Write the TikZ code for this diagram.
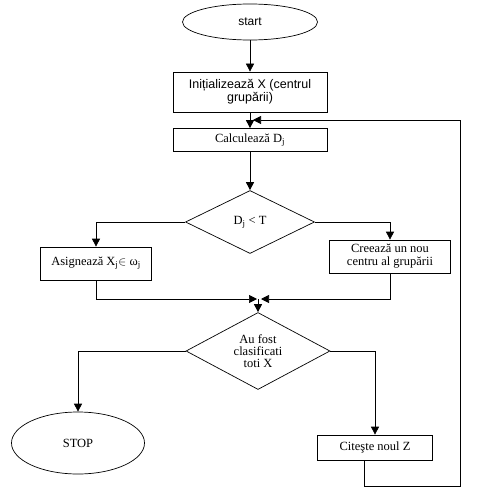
\documentclass[tikz,border=0pt]{standalone}
\usepackage{fontspec}
\setmainfont{Liberation Serif}
\newfontfamily\arialfont{Liberation Sans}
\usetikzlibrary{arrows.meta,positioning,shapes.geometric,calc}

\begin{document}
\begin{tikzpicture}[
    x=1pt, y=-1pt,
    line width=0.7pt,
    box/.style={rectangle, draw, inner sep=1pt, align=center,
                font=\fontsize{12.5}{13}\selectfont},
    sansbox/.style={box, font=\arialfont\fontsize{12.5}{13}\selectfont},
    oval/.style={ellipse, draw, inner sep=0pt, font=\fontsize{12.5}{13}\selectfont},
    decision/.style={diamond, draw, inner sep=0pt, aspect=2, align=center,
                font=\fontsize{12.5}{12}\selectfont},
    arrow/.style={-{Triangle[length=8pt,width=8pt]}}
]
\useasboundingbox (0,0) rectangle (483,495);

\node[oval, minimum width=135pt, minimum height=36pt,
      font=\arialfont\fontsize{12}{13}\selectfont] (start)  at (250,22)    {start};
\node[sansbox, minimum width=154pt, minimum height=40pt] (init) at (250,92) {Inițializează X (centrul\\grupării)};
\node[box, minimum width=154pt, minimum height=23pt]  (calc)   at (250,140)   {Calculează D\textsubscript{j}};
\node[decision, minimum width=129pt, minimum height=63pt] (test) at (250,222) {D\textsubscript{j} < T};
\node[box, minimum width=111pt, minimum height=33pt]  (assign) at (96,263.5)  {Asignează X\textsubscript{j}$\in$ ω\textsubscript{j}};
\node[box, minimum width=121pt, minimum height=33pt]  (create) at (390,256.5) {Creează un nou\\centru al grupării};
\node[decision, minimum width=144pt, minimum height=77pt] (done) at (258,351) {Au fost\\clasificati\\toti X};
\node[oval, minimum width=133pt, minimum height=62pt] (stop)   at (78,443)    {STOP};
\node[box, minimum width=115pt, minimum height=25pt]  (read)   at (375,447.5) {Citeşte noul Z};

\coordinate (join) at (258,299);
\coordinate (back) at (460,486);
\coordinate (loop) at (253,120);

\foreach \a/\b in {start/init, init/calc, calc/test}
    \draw[arrow] (\a) -- (\b);
\draw[arrow] (test.west) -| (assign.north);
\draw[arrow] (test.east) -| (create.north);
\draw[arrow] (assign.south) |- ([xshift=-1pt]join);
\draw[arrow] (create.south) |- ([xshift=3pt]join);
\draw[arrow] (join) -- (done.north);
\draw[arrow] (done.west) -| (stop.north);
\draw[arrow] (done.east) -| (read.north);
\draw[arrow] ([xshift=-11pt]read.south) |- (back) |- (loop);
\end{tikzpicture}
\end{document}
